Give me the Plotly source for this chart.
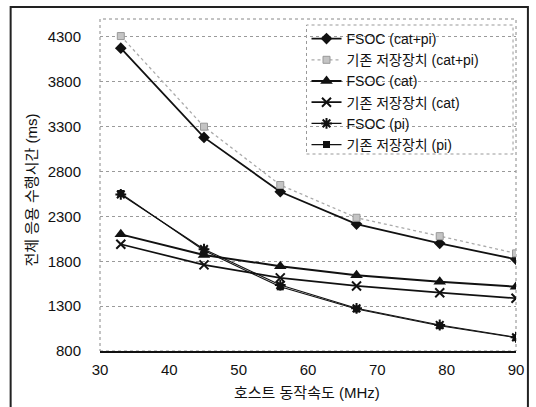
import plotly.graph_objects as go

# ---- data ----
freq_mhz = [33, 45, 56, 67, 79, 90]
fsoc_catpi = [4175, 3180, 2575, 2215, 2000, 1822]
base_catpi = [4310, 3300, 2650, 2285, 2080, 1888]
fsoc_cat = [2100, 1870, 1745, 1645, 1573, 1517]
base_cat = [1990, 1760, 1615, 1525, 1450, 1388]
fsoc_pi = [2545, 1935, 1535, 1276, 1090, 953]
base_pi = [2555, 1920, 1515, 1268, 1082, 948]

names = ["FSOC (cat+pi)", "기존 저장장치 (cat+pi)", "FSOC (cat)",
         "기존 저장장치 (cat)", "FSOC (pi)", "기존 저장장치 (pi)"]

x_ticks = [30, 40, 50, 60, 70, 80, 90]
y_ticks = [800, 1300, 1800, 2300, 2800, 3300, 3800, 4300]

FONT = "Liberation Sans, Arial, Noto Sans CJK KR, sans-serif"

fig = go.Figure()
fig.add_trace(go.Scatter(x=freq_mhz, y=fsoc_catpi, name=names[0], mode="lines+markers",
                         line=dict(color="#111", width=1.8),
                         marker=dict(symbol="diamond", size=9, color="#111")))
fig.add_trace(go.Scatter(x=freq_mhz, y=base_catpi, name=names[1], mode="lines+markers",
                         line=dict(color="#aaaaaa", width=1.3, dash="dot"),
                         marker=dict(symbol="square", size=7, color="#c4c4c4",
                                     line=dict(color="#999", width=1))))
fig.add_trace(go.Scatter(x=freq_mhz, y=fsoc_cat, name=names[2], mode="lines+markers",
                         line=dict(color="#111", width=2),
                         marker=dict(symbol="triangle-up", size=11, color="#111")))
fig.add_trace(go.Scatter(x=freq_mhz, y=base_cat, name=names[3], mode="lines+markers",
                         line=dict(color="#111", width=1.7),
                         marker=dict(symbol="x-thin-open", size=9,
                                     line=dict(color="#111", width=2))))
fig.add_trace(go.Scatter(x=freq_mhz, y=fsoc_pi, name=names[4], mode="lines+markers",
                         line=dict(color="#111", width=1.1),
                         marker=dict(symbol="asterisk-open", size=9,
                                     line=dict(color="#111", width=2))))
fig.add_trace(go.Scatter(x=freq_mhz, y=base_pi, name=names[5], mode="lines+markers",
                         line=dict(color="#111", width=1.1),
                         marker=dict(symbol="square", size=7, color="#111")))

W, H = 536, 407
L, R, T, B = 100, 17, 19, 56
pw, ph = W - L - R, H - T - B


def px(xp):
    return (xp - L) / pw


def py(yp):
    return (H - B - yp) / ph


shapes = [
    # dotted plot border
    dict(type="rect", xref="paper", yref="paper", x0=0, x1=1, y0=0, y1=1,
         line=dict(color="#888", width=1, dash="dot"), layer="below"),
    # legend dotted box
    dict(type="rect", xref="paper", yref="paper", x0=px(308), x1=px(516), y0=py(154), y1=py(25),
         line=dict(color="#999", width=1, dash="dot"), fillcolor="white", layer="below"),
    # outer frame
    dict(type="rect", xref="paper", yref="paper", x0=px(10), x1=px(531), y0=py(415), y1=py(7),
         line=dict(color="#222", width=2)),
]

fig.update_layout(
    width=W, height=H,
    margin=dict(l=L, r=R, t=T, b=B),
    paper_bgcolor="white", plot_bgcolor="white",
    font=dict(family=FONT, size=15, color="#111"),
    showlegend=True,
    legend=dict(x=px(308), y=py(23), xanchor="left", yanchor="top",
                bgcolor="rgba(0,0,0,0)", borderwidth=0,
                font=dict(family=FONT, size=14, color="#111"),
                itemwidth=30, tracegroupgap=0),
    xaxis=dict(range=[30, 90], tickvals=x_ticks, ticktext=[str(v) for v in x_ticks],
               showgrid=False, zeroline=False, showline=True, linecolor="#111", linewidth=1.5,
               ticks="", ticklabelstandoff=4,
               tickfont=dict(family=FONT, size=15, color="#111")),
    yaxis=dict(range=[800, 4500], tickvals=y_ticks, ticktext=[str(v) for v in y_ticks],
               showgrid=True, gridcolor="#9a9a9a", griddash="dot", gridwidth=1,
               zeroline=False, showline=False, ticks="", ticklabelstandoff=18,
               tickfont=dict(family=FONT, size=15, color="#111")),
    shapes=shapes,
    annotations=[
        dict(text="호스트 동작속도 (MHz)", xref="paper", yref="paper",
             x=px(308), y=py(392), xanchor="center", yanchor="middle", showarrow=False,
             font=dict(family=FONT, size=15, color="#111")),
        dict(text="전체 응용 수행시간 (ms)", xref="paper", yref="paper",
             x=px(30), y=py(190), xanchor="center", yanchor="middle", showarrow=False,
             textangle=-90, font=dict(family=FONT, size=15, color="#111")),
    ],
)

fig.write_html("out.html")
